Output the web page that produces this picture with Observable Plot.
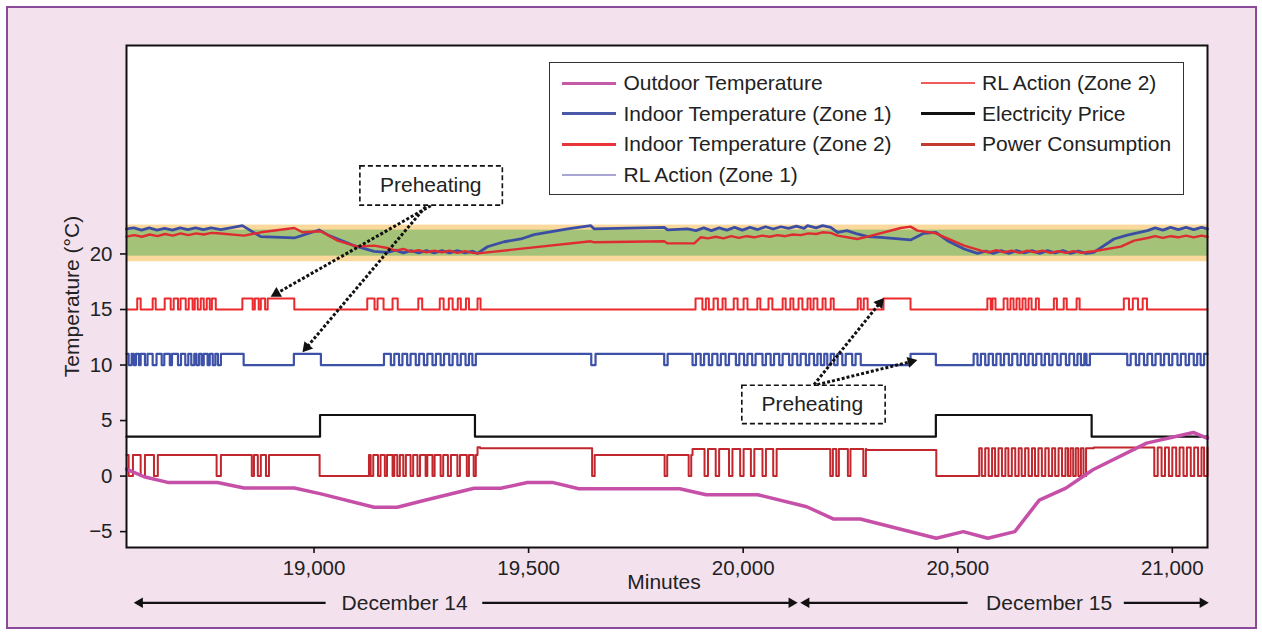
<!DOCTYPE html>
<html><head><meta charset="utf-8">
<script src="https://cdn.jsdelivr.net/npm/d3@7"></script>
<script src="https://cdn.jsdelivr.net/npm/@observablehq/plot@0.6"></script>
<style>
body{margin:0;background:#fff;}
#page{position:relative;width:1262px;height:634px;overflow:hidden;font-family:"Liberation Sans",Arial,Helvetica,sans-serif;}
#bg{position:absolute;left:6px;top:6px;width:1247px;height:619px;border:2px solid #8a4a99;background:#f3e1ee;}
#chart{position:absolute;left:0;top:0;}
#legendBox{position:absolute;left:549px;top:62px;width:633px;height:131px;border:1.5px solid #333;background:#fff;}
.ln{position:absolute;}
.lt{position:absolute;font-size:21px;line-height:24px;color:#222;white-space:nowrap;}
</style></head><body>
<div id="page"><div id="bg"></div><div id="chart"></div><div id="legendBox"></div></div>
<script>
// ---------- data (minutes, °C) ----------
const xDomain = [18563, 21082];
const yDomain = [-6.43, 38.77];
const xTicks = [19000, 19500, 20000, 20500, 21000];
const yTicks = [-5, 0, 5, 10, 15, 20];

const comfortOuter = [19.3, 22.6];
const comfortInner = [19.8, 22.15];

const outdoorTemp = [[18563,0.63],[18604,-0.06],[18659,-0.57],[18775,-0.57],[18837,-1.08],[18954,-1.08],[19016,-1.6],[19140,-2.8],[19194,-2.8],[19256,-2.2],[19373,-1.1],[19435,-1.1],[19497,-0.57],[19555,-0.57],[19617,-1.14],[19852,-1.14],[19914,-1.68],[20034,-1.68],[20148,-2.76],[20211,-3.87],[20273,-3.87],[20450,-5.6],[20513,-5.0],[20570,-5.6],[20633,-5.0],[20690,-2.16],[20752,-1.08],[20815,0.57],[20940,2.97],[21049,3.93],[21082,3.39]];

const indoorZone1 = [[18563,22.25],[18580,22.35],[18598,22.15],[18616,22.35],[18634,22.15],[18652,22.3],[18670,22.15],[18688,22.35],[18706,22.2],[18724,22.35],[18742,22.2],[18760,22.35],[18783,22.2],[18833,22.55],[18876,21.56],[18954,21.44],[19012,22.16],[19035,21.65],[19093,20.75],[19140,20.24],[19171,20.15],[19190,20.35],[19208,20.1],[19226,20.3],[19244,20.1],[19262,20.3],[19280,20.1],[19298,20.3],[19316,20.1],[19334,20.3],[19352,20.1],[19370,20.25],[19381,20.05],[19404,20.65],[19443,21.1],[19482,21.35],[19513,21.74],[19591,22.25],[19645,22.55],[19653,22.25],[19816,22.4],[19824,22.16],[19870,22.25],[19890,22.1],[19908,22.35],[19926,22.1],[19944,22.35],[19962,22.15],[19980,22.4],[19998,22.15],[20016,22.4],[20034,22.2],[20052,22.45],[20070,22.25],[20088,22.45],[20106,22.3],[20124,22.5],[20142,22.3],[20150,22.55],[20170,22.35],[20185,22.55],[20204,22.4],[20220,21.95],[20242,22.1],[20266,21.8],[20290,21.56],[20321,21.5],[20390,21.26],[20421,21.86],[20449,21.95],[20476,21.2],[20515,20.45],[20546,20.05],[20565,20.25],[20583,20.05],[20601,20.3],[20619,20.05],[20637,20.3],[20655,20.1],[20673,20.3],[20691,20.05],[20709,20.3],[20727,20.1],[20745,20.3],[20763,20.05],[20781,20.25],[20799,20.05],[20817,20.15],[20864,21.35],[20895,21.7],[20942,22.1],[20960,22.35],[20978,22.15],[20996,22.4],[21014,22.2],[21032,22.4],[21050,22.2],[21068,22.4],[21082,22.25]];

const indoorZone2 = [[18563,21.56],[18581,21.7],[18599,21.55],[18617,21.75],[18635,21.6],[18653,21.8],[18671,21.65],[18689,21.85],[18707,21.7],[18725,21.85],[18743,21.75],[18761,21.9],[18776,21.86],[18837,21.65],[18876,21.95],[18954,22.34],[18973,21.95],[19016,22.04],[19055,21.2],[19101,20.66],[19140,20.75],[19171,20.54],[19190,20.3],[19208,20.45],[19226,20.2],[19244,20.35],[19262,20.15],[19280,20.3],[19298,20.15],[19316,20.3],[19334,20.1],[19352,20.25],[19370,20.1],[19381,20.05],[19645,21.14],[19653,21.05],[19816,21.14],[19824,20.95],[19886,20.95],[19901,21.5],[19918,21.4],[19936,21.55],[19954,21.4],[19972,21.6],[19990,21.45],[20008,21.6],[20026,21.5],[20044,21.65],[20062,21.55],[20080,21.7],[20098,21.6],[20116,21.75],[20134,21.7],[20152,21.85],[20170,21.8],[20185,21.95],[20204,21.9],[20220,21.65],[20266,21.35],[20290,21.56],[20367,22.34],[20390,22.46],[20406,22.1],[20449,21.86],[20515,20.75],[20554,20.3],[20572,20.15],[20590,20.35],[20608,20.15],[20626,20.3],[20644,20.1],[20662,20.3],[20680,20.15],[20698,20.3],[20716,20.1],[20734,20.25],[20752,20.1],[20770,20.25],[20788,20.1],[20806,20.2],[20817,20.24],[20880,20.66],[20911,21.2],[20942,21.44],[20960,21.6],[20978,21.45],[20996,21.6],[21014,21.5],[21032,21.65],[21050,21.5],[21068,21.65],[21082,21.55]];

// RL action zone 2: base 15, ON (16) intervals
const rl2Levels = [15, 16];
const rl2On = [[18588,18596],[18624,18631],[18652,18666],[18673,18683],[18689,18701],[18708,18717],[18722,18729],[18736,18743],[18750,18757],[18762,18771],[18833,18857],[18862,18871],[18876,18886],[18892,18954],[19124,19141],[19148,19162],[19183,19195],[19243,19252],[19293,19302],[19314,19323],[19335,19342],[19354,19361],[19381,19388],[19889,19905],[19913,19920],[19931,19941],[19952,19959],[19978,19987],[20001,20010],[20033,20040],[20059,20068],[20092,20099],[20110,20117],[20129,20138],[20150,20157],[20164,20173],[20185,20192],[20204,20211],[20267,20274],[20281,20290],[20327,20390],[20569,20577],[20581,20588],[20607,20616],[20623,20630],[20637,20644],[20651,20658],[20665,20672],[20682,20689],[20724,20731],[20747,20754],[20777,20784],[20887,20899],[20908,20920],[20931,20941]];

// RL action zone 1: base 11, OFF (10) intervals
const rl1Levels = [11, 10];
const rl1Off = [[18568,18575],[18580,18585],[18592,18596],[18606,18612],[18624,18633],[18645,18651],[18664,18669],[18683,18690],[18700,18707],[18714,18721],[18726,18732],[18738,18743],[18752,18757],[18764,18770],[18776,18783],[18836,18953],[19016,19163],[19179,19187],[19198,19206],[19217,19225],[19237,19245],[19256,19264],[19276,19284],[19295,19303],[19315,19323],[19334,19342],[19353,19361],[19369,19377],[19646,19656],[19816,19824],[19882,19890],[19901,19909],[19920,19928],[19940,19948],[19959,19967],[19983,19991],[20002,20010],[20021,20029],[20045,20053],[20064,20072],[20084,20092],[20107,20115],[20126,20134],[20146,20154],[20165,20173],[20181,20189],[20196,20204],[20212,20220],[20231,20239],[20254,20262],[20274,20390],[20449,20537],[20546,20554],[20564,20572],[20582,20590],[20600,20608],[20619,20627],[20639,20647],[20657,20665],[20675,20683],[20695,20703],[20713,20721],[20732,20740],[20752,20760],[20771,20779],[20787,20795],[20800,20808],[20895,20903],[20915,20923],[20934,20942],[20953,20961],[20973,20981],[20992,21000],[21012,21020],[21031,21039],[21050,21058],[21066,21074]];

const electricityPrice = [[18563,3.55],[19014,5.5],[19375,3.55],[20449,5.5],[20812,3.55],[21082,3.55]];

const powerLevels = [[18563,1.9],[19381,2.6],[19387,2.5],[19651,1.9],[19882,2.45],[20287,2.35],[20544,2.5],[20817,2.58]];
const powerOff = [[18568,18578],[18596,18606],[18627,18636],[18773,18783],[18855,18860],[18869,18876],[18888,18895],[19013,19128],[19132,19138],[19149,19155],[19165,19170],[19183,19187],[19194,19200],[19208,19214],[19225,19231],[19241,19247],[19260,19264],[19276,19281],[19295,19301],[19312,19319],[19334,19340],[19356,19361],[19372,19377],[19648,19654],[19817,19823],[19873,19879],[19910,19918],[19936,19944],[19967,19975],[19993,20001],[20018,20026],[20045,20053],[20070,20078],[20203,20209],[20217,20223],[20244,20250],[20280,20286],[20450,20550],[20556,20564],[20572,20580],[20587,20595],[20603,20611],[20618,20626],[20634,20642],[20649,20657],[20665,20673],[20680,20688],[20696,20704],[20712,20720],[20727,20735],[20743,20751],[20757,20763],[20769,20775],[20781,20787],[20793,20799],[20958,20966],[20975,20983],[20992,21000],[21009,21017],[21026,21034],[21043,21051],[21060,21068],[21074,21082]];

// annotations (data units)
const preheatBoxes = [[19108,19440,24.35,27.89],[19998,20332,4.68,8.14]];
const preheatLabels = [[19272,26.17],[20161,6.45]];
const preheatArrows = [[[19272,24.35],[18899,16.15]],[[19260,24.26],[18973,11.14]],[[20165,8.23],[20328,16.04]],[[20173,8.23],[20406,10.45]]];
const dateY = -11.41;
const dateLabels = [["December 14",19211],["December 15",20713]];
const dateArrows = [[19027,18580],[19392,20127],[20523,20133],[20887,21085]];

const legendItems = [
  ["Outdoor Temperature", "#c55aa8", 3.2, 0, 0],
  ["Indoor Temperature (Zone 1)", "#4a58a8", 3.2, 0, 1],
  ["Indoor Temperature (Zone 2)", "#e8333b", 3.2, 0, 2],
  ["RL Action (Zone 1)", "#aaa6d4", 2, 0, 3],
  ["RL Action (Zone 2)", "#f05a5a", 2, 1, 0],
  ["Electricity Price", "#111111", 3.2, 1, 1],
  ["Power Consumption", "#c23b2e", 3.2, 1, 2]
];

// ---------- build ----------
function pulseSeries(levels, intervals) {
  const [base, alt] = levels;
  const pts = [[xDomain[0], base]];
  for (const [a, b] of intervals) pts.push([a, alt], [b, base]);
  pts.push([xDomain[1], base]);
  return pts;
}
function powerSeries() {
  const levelAt = t => { let v = powerLevels[0][1]; for (const [s, l] of powerLevels) if (t >= s) v = l; return v; };
  const ts = new Set([xDomain[0], xDomain[1]]);
  powerLevels.forEach(([s]) => ts.add(s));
  powerOff.forEach(([a, b]) => { ts.add(a); ts.add(b); });
  return [...ts].sort((a, b) => a - b).map(t => [t, powerOff.some(([a, b]) => t >= a && t < b) ? 0 : levelAt(t)]);
}

const W = 1262, H = 634, mL = 126, mR = 55, mT = 45, mB = 87;
const X = d3.scaleLinear(xDomain, [mL, W - mR]);
const Y = d3.scaleLinear(yDomain, [H - mB, mT]);

function arrowParts(p1, p2, r) {
  const x1 = X(p1[0]), y1 = Y(p1[1]), x2 = X(p2[0]), y2 = Y(p2[1]);
  const dx = x2 - x1, dy = y2 - y1, L = Math.hypot(dx, dy), ux = dx / L, uy = dy / L;
  const hy = Math.sqrt(Math.PI * r * r / (Math.sqrt(3) * 3));
  const cx = x2 - ux * 2 * hy, cy = y2 - uy * 2 * hy;
  return {x1: p1[0], y1: p1[1], x2: X.invert(cx), y2: Y.invert(cy), hx: X.invert(cx), hy: Y.invert(cy), rot: Math.atan2(dx, -dy) * 180 / Math.PI};
}
const preheatParts = preheatArrows.map(([a, b]) => arrowParts(a, b, 4.2));
const dateParts = dateArrows.map(([a, b]) => arrowParts([a, dateY], [b, dateY], 3.9));

const line = (data, stroke, strokeWidth, curve = "linear") =>
  Plot.line(data, {x: d => d[0], y: d => d[1], stroke, strokeWidth, curve, strokeLinejoin: "round"});

const chart = Plot.plot({
  width: W, height: H,
  marginLeft: mL, marginRight: mR, marginTop: mT, marginBottom: mB,
  x: {domain: xDomain},
  y: {domain: yDomain},
  style: {background: "transparent", fontFamily: "'Liberation Sans', Arial, Helvetica, sans-serif", fontSize: "20px", overflow: "visible", color: "#222"},
  marks: [
    Plot.frame({fill: "white", stroke: "none"}),
    Plot.rect([comfortOuter], {x1: () => xDomain[0], x2: () => xDomain[1], y1: d => d[0], y2: d => d[1], fill: "#fbd89c"}),
    Plot.rect([comfortInner], {x1: () => xDomain[0], x2: () => xDomain[1], y1: d => d[0], y2: d => d[1], fill: "#a4c278"}),
    line(powerSeries(), "#c1272d", 2, "step-after"),
    line(electricityPrice, "#111", 2.2, "step-after"),
    line(pulseSeries(rl1Levels, rl1Off), "#3e51a8", 2.2, "step-after"),
    line(pulseSeries(rl2Levels, rl2On), "#ec2a2e", 2, "step-after"),
    line(indoorZone1, "#3c4ea4", 2.8),
    line(indoorZone2, "#de2d32", 2.4),
    line(outdoorTemp, "#c650a8", 3.5),
    Plot.frame({stroke: "#111", strokeWidth: 2}),
    Plot.axisX({ticks: xTicks, tickSize: 6, tickPadding: 7, tickFormat: d3.format(","), fontSize: 20.5, label: null, stroke: "#111", strokeWidth: 1.6, fill: "#222"}),
    Plot.axisY({ticks: yTicks, tickSize: 6, tickPadding: 8, tickFormat: d3.format("d"), fontSize: 20.5, label: null, stroke: "#111", strokeWidth: 1.6, fill: "#222"}),
    Plot.text(["Temperature (°C)"], {frameAnchor: "left", textAnchor: "middle", dx: -54, rotate: -90, fontSize: 21, fill: "#222"}),
    Plot.text(["Minutes"], {frameAnchor: "bottom", dx: -3, dy: 41, fontSize: 21, fill: "#222"}),
    // preheating annotations
    Plot.link(preheatParts, {x1: "x1", y1: "y1", x2: "x2", y2: "y2", stroke: "#111", strokeWidth: 3, strokeDasharray: "3,2"}),
    Plot.dot(preheatParts, {x: "hx", y: "hy", rotate: "rot", symbol: "triangle", r: 4.2, fill: "#111", stroke: "none"}),
    Plot.rect(preheatBoxes, {x1: d => d[0], x2: d => d[1], y1: d => d[2], y2: d => d[3], fill: "white", stroke: "#111", strokeWidth: 1.6, strokeDasharray: "5,3"}),
    Plot.text(preheatLabels, {x: d => d[0], y: d => d[1], text: () => "Preheating", fontSize: 21, fill: "#222"}),
    // date row
    Plot.link(dateParts, {x1: "x1", y1: "y1", x2: "x2", y2: "y2", stroke: "#111", strokeWidth: 2.2}),
    Plot.dot(dateParts, {x: "hx", y: "hy", rotate: "rot", symbol: "triangle", r: 3.9, fill: "#111", stroke: "none"}),
    Plot.text(dateLabels, {x: d => d[1], y: () => dateY, text: d => d[0], fontSize: 21, fill: "#222"})
  ]
});
document.getElementById("chart").appendChild(chart);

// legend (HTML, over the plot)
const page = document.getElementById("page");
const rowY = [83.3, 113.6, 144.2, 175];
const colLine = [[562, 616], [921, 975]];
const colText = [623.5, 982];
for (const [label, color, w, col, row] of legendItems) {
  const l = document.createElement("div");
  l.className = "ln";
  l.style.cssText = `left:${colLine[col][0]}px;top:${rowY[row] - w / 2}px;width:${colLine[col][1] - colLine[col][0]}px;height:${w}px;background:${color}`;
  page.appendChild(l);
  const t = document.createElement("div");
  t.className = "lt";
  t.style.left = colText[col] + "px";
  t.style.top = (rowY[row] - 12) + "px";
  t.textContent = label;
  page.appendChild(t);
}
</script></body></html>
